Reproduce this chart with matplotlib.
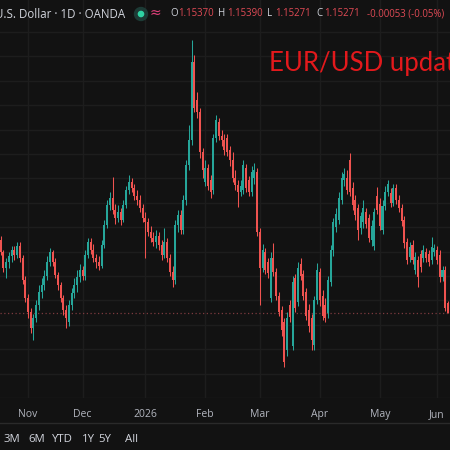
import numpy as np
import pandas as pd
import matplotlib
matplotlib.use("Agg")
import matplotlib.pyplot as plt
from matplotlib.patches import Circle
from matplotlib.lines import Line2D

# ---------------- data ----------------
dates = pd.bdate_range("2025-10-20", periods=165)

opens = [
    1.1600, 1.1588, 1.1572, 1.1578, 1.1584, 1.1590, 1.1585, 1.1594, 1.1582, 1.1560,
    1.1542, 1.1528, 1.1512, 1.1522, 1.1535, 1.1548, 1.1555, 1.1564, 1.1578, 1.1588,
    1.1578, 1.1565, 1.1555, 1.1542, 1.1530, 1.1518, 1.1535, 1.1547, 1.1555, 1.1563,
    1.1570, 1.1564, 1.1585, 1.1598, 1.1590, 1.1582, 1.1578, 1.1574, 1.1595, 1.1615,
    1.1635, 1.1642, 1.1630, 1.1622, 1.1628, 1.1620, 1.1635, 1.1650, 1.1658, 1.1652,
    1.1644, 1.1640, 1.1632, 1.1622, 1.1618, 1.1608, 1.1602, 1.1598, 1.1604, 1.1595,
    1.1585, 1.1598, 1.1582, 1.1568, 1.1560, 1.1615, 1.1625, 1.1610, 1.1640, 1.1675,
    1.1700, 1.1778, 1.1740, 1.1728, 1.1688, 1.1658, 1.1672, 1.1660, 1.1650, 1.1702,
    1.1718, 1.1704, 1.1700, 1.1702, 1.1690, 1.1680, 1.1662, 1.1655, 1.1648, 1.1650,
    1.1672, 1.1660, 1.1648, 1.1662, 1.1668, 1.1608, 1.1572, 1.1588, 1.1578, 1.1542,
    1.1582, 1.1568, 1.1544, 1.1530, 1.1518, 1.1490, 1.1535, 1.1494, 1.1562, 1.1538,
    1.1576, 1.1566, 1.1548, 1.1530, 1.1522, 1.1495, 1.1540, 1.1568, 1.1544, 1.1535,
    1.1527, 1.1558, 1.1590, 1.1613, 1.1620, 1.1640, 1.1660, 1.1662, 1.1680, 1.1652,
    1.1640, 1.1632, 1.1612, 1.1618, 1.1628, 1.1622, 1.1600, 1.1594, 1.1644, 1.1636,
    1.1610, 1.1634, 1.1648, 1.1647, 1.1637, 1.1652, 1.1640, 1.1632, 1.1620, 1.1598,
    1.1583, 1.1595, 1.1570, 1.1580, 1.1586, 1.1582, 1.1588, 1.1586, 1.1580, 1.1588,
    1.1590, 1.1585, 1.1563, 1.1570, 1.1537,
]
highs = [
    1.1604, 1.1590, 1.1582, 1.1588, 1.1594, 1.1594, 1.1598, 1.1598, 1.1585, 1.1564,
    1.1546, 1.1532, 1.1526, 1.1540, 1.1555, 1.1562, 1.1570, 1.1584, 1.1592, 1.1590,
    1.1582, 1.1568, 1.1558, 1.1545, 1.1535, 1.1540, 1.1552, 1.1562, 1.1570, 1.1576,
    1.1574, 1.1590, 1.1602, 1.1602, 1.1596, 1.1586, 1.1584, 1.1600, 1.1620, 1.1640,
    1.1648, 1.1663, 1.1636, 1.1635, 1.1632, 1.1640, 1.1654, 1.1665, 1.1662, 1.1656,
    1.1650, 1.1645, 1.1636, 1.1628, 1.1622, 1.1614, 1.1608, 1.1610, 1.1608, 1.1600,
    1.1612, 1.1602, 1.1586, 1.1574, 1.1620, 1.1630, 1.1630, 1.1645, 1.1680, 1.1715,
    1.1800, 1.1785, 1.1748, 1.1732, 1.1692, 1.1680, 1.1676, 1.1665, 1.1706, 1.1725,
    1.1722, 1.1710, 1.1706, 1.1706, 1.1694, 1.1688, 1.1670, 1.1660, 1.1660, 1.1680,
    1.1676, 1.1664, 1.1674, 1.1677, 1.1672, 1.1612, 1.1596, 1.1592, 1.1582, 1.1588,
    1.1597, 1.1572, 1.1548, 1.1534, 1.1522, 1.1528, 1.1540, 1.1564, 1.1566, 1.1578,
    1.1582, 1.1570, 1.1552, 1.1536, 1.1526, 1.1544, 1.1577, 1.1572, 1.1550, 1.1542,
    1.1564, 1.1595, 1.1622, 1.1632, 1.1648, 1.1668, 1.1672, 1.1670, 1.1687, 1.1658,
    1.1645, 1.1636, 1.1628, 1.1640, 1.1632, 1.1626, 1.1620, 1.1632, 1.1653, 1.1642,
    1.1640, 1.1654, 1.1660, 1.1652, 1.1656, 1.1656, 1.1645, 1.1636, 1.1624, 1.1602,
    1.1598, 1.1600, 1.1588, 1.1584, 1.1590, 1.1595, 1.1592, 1.1590, 1.1603, 1.1596,
    1.1594, 1.1590, 1.1574, 1.1574, 1.1539,
]
lows = [
    1.1585, 1.1568, 1.1562, 1.1572, 1.1578, 1.1580, 1.1582, 1.1578, 1.1556, 1.1538,
    1.1522, 1.1507, 1.1500, 1.1518, 1.1530, 1.1542, 1.1550, 1.1560, 1.1574, 1.1574,
    1.1562, 1.1550, 1.1538, 1.1525, 1.1512, 1.1514, 1.1530, 1.1542, 1.1548, 1.1558,
    1.1560, 1.1560, 1.1582, 1.1586, 1.1578, 1.1572, 1.1570, 1.1572, 1.1592, 1.1612,
    1.1630, 1.1626, 1.1616, 1.1618, 1.1615, 1.1618, 1.1632, 1.1646, 1.1648, 1.1640,
    1.1635, 1.1628, 1.1618, 1.1582, 1.1604, 1.1598, 1.1594, 1.1592, 1.1590, 1.1580,
    1.1582, 1.1578, 1.1564, 1.1553, 1.1556, 1.1608, 1.1606, 1.1606, 1.1635, 1.1670,
    1.1695, 1.1728, 1.1722, 1.1682, 1.1662, 1.1654, 1.1650, 1.1642, 1.1646, 1.1698,
    1.1700, 1.1694, 1.1685, 1.1684, 1.1674, 1.1658, 1.1650, 1.1633, 1.1644, 1.1646,
    1.1648, 1.1644, 1.1644, 1.1656, 1.1604, 1.1535, 1.1568, 1.1566, 1.1562, 1.1538,
    1.1564, 1.1540, 1.1524, 1.1504, 1.1473, 1.1484, 1.1518, 1.1490, 1.1528, 1.1534,
    1.1560, 1.1540, 1.1520, 1.1508, 1.1490, 1.1490, 1.1536, 1.1534, 1.1520, 1.1518,
    1.1522, 1.1554, 1.1584, 1.1608, 1.1616, 1.1636, 1.1654, 1.1646, 1.1644, 1.1630,
    1.1620, 1.1600, 1.1606, 1.1612, 1.1612, 1.1598, 1.1594, 1.1590, 1.1626, 1.1610,
    1.1606, 1.1630, 1.1644, 1.1633, 1.1634, 1.1636, 1.1628, 1.1614, 1.1592, 1.1576,
    1.1578, 1.1576, 1.1566, 1.1553, 1.1568, 1.1578, 1.1578, 1.1574, 1.1576, 1.1584,
    1.1576, 1.1558, 1.1559, 1.1529, 1.1527,
]
closes = [
    1.1588, 1.1572, 1.1578, 1.1584, 1.1590, 1.1585, 1.1594, 1.1582, 1.1560, 1.1542,
    1.1528, 1.1512, 1.1522, 1.1535, 1.1548, 1.1555, 1.1564, 1.1578, 1.1588, 1.1578,
    1.1565, 1.1555, 1.1542, 1.1530, 1.1522, 1.1535, 1.1547, 1.1555, 1.1563, 1.1570,
    1.1564, 1.1585, 1.1598, 1.1590, 1.1582, 1.1578, 1.1574, 1.1595, 1.1615, 1.1635,
    1.1642, 1.1630, 1.1622, 1.1628, 1.1620, 1.1635, 1.1650, 1.1658, 1.1652, 1.1644,
    1.1640, 1.1632, 1.1622, 1.1618, 1.1608, 1.1602, 1.1598, 1.1604, 1.1595, 1.1585,
    1.1598, 1.1582, 1.1568, 1.1560, 1.1615, 1.1625, 1.1610, 1.1640, 1.1675, 1.1700,
    1.1778, 1.1732, 1.1728, 1.1688, 1.1670, 1.1672, 1.1654, 1.1648, 1.1702, 1.1720,
    1.1704, 1.1700, 1.1690, 1.1688, 1.1680, 1.1662, 1.1655, 1.1648, 1.1654, 1.1675,
    1.1652, 1.1648, 1.1668, 1.1670, 1.1608, 1.1572, 1.1590, 1.1570, 1.1567, 1.1582,
    1.1568, 1.1544, 1.1528, 1.1510, 1.1478, 1.1522, 1.1523, 1.1558, 1.1532, 1.1572,
    1.1564, 1.1544, 1.1524, 1.1514, 1.1500, 1.1540, 1.1570, 1.1540, 1.1524, 1.1522,
    1.1560, 1.1590, 1.1618, 1.1626, 1.1642, 1.1662, 1.1666, 1.1650, 1.1648, 1.1635,
    1.1625, 1.1610, 1.1624, 1.1632, 1.1616, 1.1602, 1.1614, 1.1628, 1.1630, 1.1614,
    1.1634, 1.1648, 1.1656, 1.1637, 1.1652, 1.1640, 1.1632, 1.1619, 1.1597, 1.1580,
    1.1593, 1.1580, 1.1583, 1.1563, 1.1573, 1.1590, 1.1582, 1.1578, 1.1593, 1.1592,
    1.1580, 1.1563, 1.1570, 1.1532, 1.15271,
]

symbol_text = "U.S. Dollar · 1D · OANDA"
ohlc_labels = ["O", "H", "L", "C"]
ohlc_values = ["1.15370", "1.15390", "1.15271", "1.15271"]
change_text = "-0.00053 (-0.05%)"
title_text = "EUR/USD update"
range_buttons = ["3M", "6M", "YTD", "1Y", "5Y", "All"]

# ---------------- style ----------------
BG = "#121212"
GRID = "#1d1d1d"
UP = "#26a69a"
DOWN = "#ef5350"
TXT = "#d1d4dc"
AXTXT = "#b2b5be"
VAL = "#e04a55"

W = H = 450.0
def fx(px):
    return px / W
def fy(py):
    return 1 - py / H

fig = plt.figure(figsize=(4.5, 4.5), dpi=100, facecolor=BG)
ax = fig.add_axes([0, 52 / H, 1, 398 / H])
ax.set_facecolor(BG)

o = np.array(opens); h = np.array(highs); l = np.array(lows); c = np.array(closes)
idx = np.arange(len(dates))
up = c >= o
cols = np.where(up, UP, DOWN)

ax.vlines(idx, l, h, colors=cols, lw=0.75, zorder=3)
body = np.maximum(np.abs(c - o), 0.00008)
ax.bar(idx, body, bottom=np.minimum(o, c), width=0.74, color=cols, lw=0, zorder=4)

# last price dotted line
ax.axhline(c[-1], color="#7d3a3f", lw=0.9, ls=(0, (1, 2)), zorder=2)

ax.set_xlim(-0.27, 164.75)
ax.set_ylim(1.1442, 1.1840)

# month ticks
months = dates.month
first_idx = [i for i in range(len(dates)) if i > 0 and months[i] != months[i - 1]]
labels = [str(dates[i].year) if dates[i].month == 1 else dates[i].strftime("%b") for i in first_idx]
ax.set_xticks(first_idx)
ax.set_xticklabels(labels, fontsize=7.5, color=AXTXT, family="Open Sans")
ax.tick_params(axis="x", length=0, pad=8)
ax.set_yticks(np.arange(1.1808, 1.1430, -0.00244))
ax.tick_params(axis="y", left=False, labelleft=False, length=0)
ax.grid(True, color=GRID, lw=1.0, zorder=0)
ax.set_axisbelow(True)
for s in ax.spines.values():
    s.set_visible(False)

# separator above bottom toolbar
fig.add_artist(Line2D([0, 1], [fy(423), fy(423)], color="#2a2a2a", lw=1, transform=fig.transFigure))

# header
fig.text(fx(125), fy(14), symbol_text, ha="right", va="center", color=TXT, fontsize=8.3, family="Open Sans")
fig.add_artist(Circle((fx(141), fy(14)), 6.5 / W, color="#1d3b36", transform=fig.transFigure))
fig.add_artist(Circle((fx(141), fy(14)), 2.6 / W, color="#2fd3a4", transform=fig.transFigure))
fig.text(fx(155), fy(13), "≈", ha="center", va="center", color="#e0407a", fontsize=10, family="DejaVu Sans")
label_x = [170, 218, 267, 316]
value_x = [178, 227, 275, 324]
for lab, val, lx, vx in zip(ohlc_labels, ohlc_values, label_x, value_x):
    fig.text(fx(lx), fy(14), lab, ha="left", va="center", color=TXT, fontsize=7, family="Open Sans")
    fig.text(fx(vx), fy(14), val, ha="left", va="center", color=VAL, fontsize=6.9, family="Open Sans")
fig.text(fx(367), fy(14), change_text, ha="left", va="center", color=VAL, fontsize=6.9, family="Open Sans")

# overlay title
fig.text(fx(269), fy(63), title_text, ha="left", va="center", color="#e3191c", fontsize=18.5, family="Lato")

# range buttons
btn_x = [3, 28, 52, 82, 98, 125]
for b, bx in zip(range_buttons, btn_x):
    fig.text(fx(bx), fy(440), b, ha="left", va="center", color=TXT, fontsize=8.2, family="Open Sans")

fig.savefig("out.png", dpi=100, facecolor=BG)
